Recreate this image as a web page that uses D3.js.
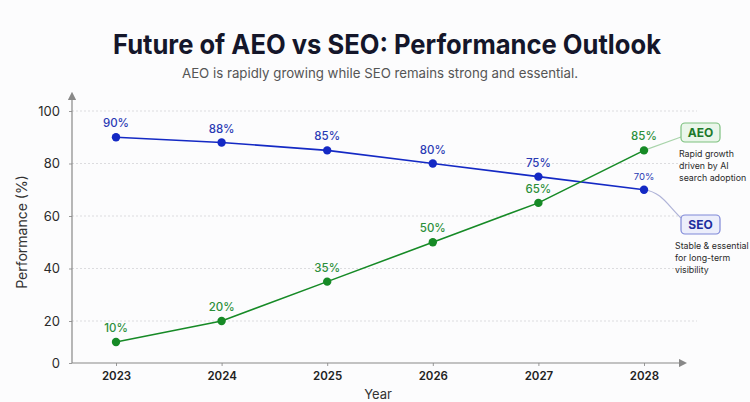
<!DOCTYPE html>
<html lang="en">
<head>
<meta charset="utf-8">
<title>Future of AEO vs SEO</title>
<script src="https://cdn.jsdelivr.net/npm/d3@7"></script>
<style>
  body { margin: 0; background: #fcfcfd; }
  svg { display: block; font-family: "Inter", "Roboto", sans-serif; }
</style>
</head>
<body>
<script>
// data
const years = [2023, 2024, 2025, 2026, 2027, 2028];
const seoValues = [90, 88, 85, 80, 75, 70];
const aeoValues = [10, 20, 35, 50, 65, 85];
const yTicks = [0, 20, 40, 60, 80, 100];
const aeoNote = ["Rapid growth", "driven by AI", "search adoption"];
const seoNote = ["Stable & essential", "for long-term", "visibility"];

const w = 750, h = 402;
const blue = "#1429c4", green = "#168a26";

const svg = d3.select("body").append("svg")
  .attr("width", w).attr("height", h);

svg.append("defs").append("marker")
  .attr("id", "arrow")
  .attr("viewBox", "0 0 10 10")
  .attr("refX", 5).attr("refY", 5)
  .attr("markerWidth", 7).attr("markerHeight", 7)
  .attr("orient", "auto")
  .append("path").attr("d", "M0,0L10,5L0,10z").attr("fill", "#888");

// scales (the picture's grid is slightly uneven near the bottom)
const x = d3.scaleLinear().domain([2023, 2028]).range([116, 644]);
const y = d3.scaleLinear().domain([0, 20, 100]).range([363, 321, 111]);

// title
svg.append("text")
  .attr("x", 387).attr("y", 54)
  .attr("text-anchor", "middle")
  .attr("font-size", 27).attr("font-weight", 700)
  .attr("fill", "#14162a")
  .attr("textLength", 548).attr("lengthAdjust", "spacingAndGlyphs")
  .text("Future of AEO vs SEO: Performance Outlook");

svg.append("text")
  .attr("x", 380).attr("y", 78)
  .attr("text-anchor", "middle")
  .attr("font-size", 13.5)
  .attr("fill", "#555")
  .attr("textLength", 396).attr("lengthAdjust", "spacingAndGlyphs")
  .text("AEO is rapidly growing while SEO remains strong and essential.");

// gridlines
svg.append("g").selectAll("line")
  .data(yTicks.filter(d => d > 0))
  .join("line")
  .attr("x1", 72).attr("x2", 697)
  .attr("y1", d => y(d)).attr("y2", d => y(d))
  .attr("stroke", "#dcdcdf").attr("stroke-dasharray", "2,2");

// y axis
const yAxis = svg.append("g")
  .attr("transform", "translate(72,0)")
  .call(d3.axisLeft(y).tickValues(yTicks).tickSize(3).tickPadding(9).tickSizeOuter(0));
yAxis.select(".domain").remove();
yAxis.selectAll("line").attr("stroke", "#999");
yAxis.selectAll("text").attr("font-size", 13).attr("fill", "#2a2a2a")
  .attr("font-family", "Inter, sans-serif");

// x axis
const xAxis = svg.append("g")
  .attr("transform", "translate(0,363)")
  .call(d3.axisBottom(x).tickValues(years).tickFormat(d3.format("d")).tickSize(3).tickPadding(6).tickSizeOuter(0));
xAxis.select(".domain").remove();
xAxis.selectAll("line").attr("stroke", "#999");
xAxis.selectAll("text").attr("font-size", 11.5).attr("font-weight", 600).attr("fill", "#222")
  .attr("font-family", "Inter, sans-serif");

// axis lines with arrowheads
svg.append("line")
  .attr("x1", 72).attr("y1", 363).attr("x2", 72).attr("y2", 96)
  .attr("stroke", "#888").attr("stroke-width", 1.2)
  .attr("marker-end", "url(#arrow)");
svg.append("line")
  .attr("x1", 72).attr("y1", 363).attr("x2", 683).attr("y2", 363)
  .attr("stroke", "#888").attr("stroke-width", 1.2)
  .attr("marker-end", "url(#arrow)");

// axis titles
svg.append("text")
  .attr("transform", "translate(27,232) rotate(-90)")
  .attr("text-anchor", "middle")
  .attr("font-size", 14).attr("fill", "#333")
  .text("Performance (%)");
svg.append("text")
  .attr("x", 378).attr("y", 399)
  .attr("text-anchor", "middle")
  .attr("font-size", 13).attr("fill", "#333")
  .text("Year");

// series
const series = [
  { name: "SEO", values: seoValues, color: blue, label: "#2a3ab4" },
  { name: "AEO", values: aeoValues, color: green, label: "#2b8f3a" }
];

const line = d3.line()
  .x((d, i) => x(years[i]))
  .y(d => y(d));

// connectors to the side labels
const aeoEnd = [x(2028), y(aeoValues[5])];
const seoEnd = [x(2028), y(seoValues[5])];
svg.append("path")
  .attr("d", `M${aeoEnd[0]},${aeoEnd[1]}L681,137`)
  .attr("stroke", "#a9d4ab").attr("stroke-width", 1.2).attr("fill", "none");
svg.append("path")
  .attr("d", `M${seoEnd[0]},${seoEnd[1]}C662,192 668,206 681,218`)
  .attr("stroke", "#b0b4d8").attr("stroke-width", 1.2).attr("fill", "none");

series.forEach(s => {
  svg.append("path")
    .datum(s.values)
    .attr("d", line)
    .attr("fill", "none")
    .attr("stroke", s.color)
    .attr("stroke-width", 1.6);

  svg.append("g").selectAll("circle")
    .data(s.values)
    .join("circle")
    .attr("cx", (d, i) => x(years[i]))
    .attr("cy", d => y(d))
    .attr("r", 4.2)
    .attr("fill", s.color);

  svg.append("g").selectAll("text")
    .data(s.values)
    .join("text")
    .attr("x", (d, i) => x(years[i]))
    .attr("y", d => y(d) - 10)
    .attr("text-anchor", "middle")
    .attr("font-size", (d, i) => (s.name === "SEO" && i === 5) ? 9.5 : 11.5)
    .attr("font-weight", (d, i) => (s.name === "SEO" && i === 5) ? 400 : 500)
    .attr("fill", s.label)
    .text(d => d + "%");
});

// side boxes
function sideBox(name, top, stroke, fill, textColor, note, noteX, noteY) {
  svg.append("rect")
    .attr("x", 681).attr("y", top)
    .attr("width", 39).attr("height", 19)
    .attr("rx", 4)
    .attr("fill", fill).attr("stroke", stroke).attr("stroke-width", 1.2);
  svg.append("text")
    .attr("x", 700.5).attr("y", top + 14)
    .attr("text-anchor", "middle")
    .attr("font-size", 12).attr("font-weight", 700)
    .attr("fill", textColor)
    .text(name);
  svg.append("g").selectAll("text")
    .data(note)
    .join("text")
    .attr("x", noteX)
    .attr("y", (d, i) => noteY + i * 12)
    .attr("font-size", 8.8).attr("fill", "#2a2a2a")
    .text(d => d);
}
sideBox("AEO", 123, "#7cc07f", "#eaf6ea", "#1d7a2a", aeoNote, 679, 157);
sideBox("SEO", 215, "#7f88d8", "#eceefb", "#1e2f9e", seoNote, 675, 249);
</script>
</body>
</html>
